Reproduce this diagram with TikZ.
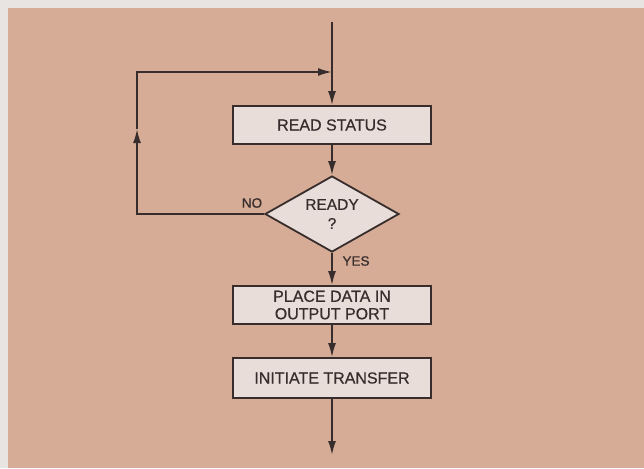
\documentclass[tikz,border=0pt]{standalone}
\usepackage{fontspec}
\setmainfont{Liberation Sans}
\newfontfamily\lettering[FakeBold=0.6]{Liberation Sans}
\usetikzlibrary{shapes.geometric,arrows.meta}
\definecolor{outerbg}{RGB}{231,228,226}
\definecolor{peach}{RGB}{214,172,150}
\definecolor{boxfill}{RGB}{233,221,217}
\definecolor{ink}{RGB}{55,45,45}
\begin{document}
\begin{tikzpicture}[x=1pt,y=-1pt,
  procbox/.style={draw=ink, line width=1.8pt, fill=boxfill, minimum width=198pt,
    minimum height=38pt, inner sep=0pt, text=ink, align=center,
    font=\lettering\fontsize{16}{17.5}\selectfont},
  decbox/.style={diamond, draw=ink, line width=1.8pt, fill=boxfill,
    minimum width=134pt, minimum height=76pt, aspect=1.76, inner sep=0pt,
    text=ink, align=center, font=\lettering\fontsize{15.5}{17}\selectfont},
  plain/.style={draw=ink, line width=1.8pt},
  flow/.style={draw=ink, line width=1.8pt, -{Latex[length=14pt,width=8pt]}},
  lbl/.style={text=ink, inner sep=0pt, font=\lettering\fontsize{13.5}{16}\selectfont}]
\fill[outerbg] (0,0) rectangle (644,468);
\fill[peach] (8,8) rectangle (644,468);
\useasboundingbox (0,0) rectangle (644,468);

\node[procbox] (read) at (332,125) {READ STATUS};
\node[decbox] (ready) at (332,214) {\raisebox{-2pt}{READY}\\[2pt]\raisebox{-2pt}{?}};
\node[procbox] (place) at (332,305) {PLACE DATA IN\\OUTPUT PORT};
\node[procbox, minimum height=40pt] (init) at (332,378) {INITIATE TRANSFER};

\coordinate (start) at (332,22);
\coordinate (join) at (332,72);
\coordinate (loopmid) at (137,129);
\coordinate (end) at (332,455);

\node[lbl] (no) at (252,203) {NO};
\node[lbl] (yes) at (356,261) {YES};

\draw[plain] (start) -- (join);
\draw[flow] (join) -- (read);
\draw[flow] (read) -- (ready);
\draw[flow] (ready) -- (place);
\draw[flow] (place) -- (init);
\draw[flow] (init) -- (end);
\draw[flow] (ready.west) -| (loopmid);
\draw[flow] (loopmid) |- (join);
\end{tikzpicture}
\end{document}
